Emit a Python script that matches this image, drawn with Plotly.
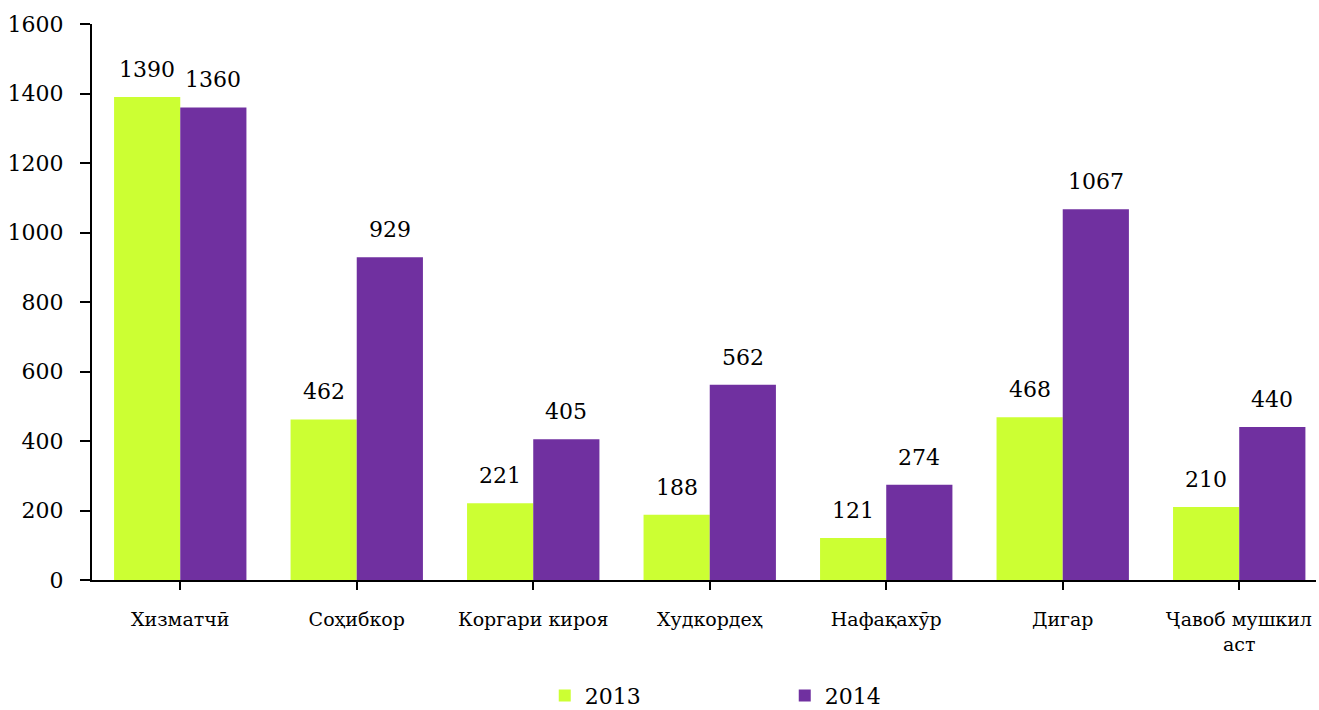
import plotly.graph_objects as go

categories = ["Хизматчӣ", "Соҳибкор", "Коргари кироя", "Худкордеҳ",
              "Нафақахӯр", "Дигар", "Ҷавоб мушкил<br>аст"]
values_2013 = [1390, 462, 221, 188, 121, 468, 210]
values_2014 = [1360, 929, 405, 562, 274, 1067, 440]
y_ticks = [0, 200, 400, 600, 800, 1000, 1200, 1400, 1600]

GREEN = "#CCFF33"
PURPLE = "#7030A0"
SERIF = "DejaVu Serif"
NUM_FONT = dict(family=SERIF, size=22, color="#000000")
CAT_FONT = dict(family=SERIF, size=19, color="#000000")

x_idx = list(range(len(categories)))
bar_w = 0.375

fig = go.Figure()
fig.add_trace(go.Bar(name="2013", x=x_idx, y=values_2013, marker_color=GREEN,
                     marker_line_width=0))
fig.add_trace(go.Bar(name="2014", x=x_idx, y=values_2014, marker_color=PURPLE,
                     marker_line_width=0))

# value labels above each bar
annotations = []
for i in x_idx:
    for v, off in ((values_2013[i], -bar_w / 2), (values_2014[i], bar_w / 2)):
        annotations.append(dict(x=i + off, y=v, text=str(v), showarrow=False,
                                xref="x", yref="y", yanchor="bottom",
                                yshift=13, font=NUM_FONT))

fig.update_layout(
    width=1319, height=710,
    margin=dict(l=92, r=3, t=24, b=130),
    paper_bgcolor="white", plot_bgcolor="white",
    barmode="group", bargap=0.25, bargroupgap=0,
    showlegend=True,
    legend=dict(orientation="h", xref="container", yref="container",
                x=0.413, y=0.02, xanchor="left", yanchor="middle",
                entrywidth=195, entrywidthmode="pixels",
                font=NUM_FONT, itemwidth=30, traceorder="normal"),
    annotations=annotations,
    xaxis=dict(tickmode="array", tickvals=x_idx, ticktext=categories,
               range=[-0.5, 6.435], showline=True, linecolor="black",
               linewidth=2, ticks="outside", tickson="boundaries",
               ticklen=8, tickwidth=2, tickcolor="black",
               showgrid=False, zeroline=False, tickfont=CAT_FONT,
               ticklabelstandoff=13),
    yaxis=dict(range=[0, 1600], tickvals=y_ticks, showline=True,
               linecolor="black", linewidth=2, ticks="outside", ticklen=10,
               tickwidth=2, tickcolor="black", showgrid=False, zeroline=False,
               tickfont=NUM_FONT, ticklabelstandoff=12),
    yaxis2=dict(range=[0, 1600], tickvals=y_ticks, overlaying="y",
                side="left", showline=False, ticks="inside", ticklen=9,
                tickwidth=2, tickcolor="black", showticklabels=False,
                showgrid=False, zeroline=False),
)

fig.write_html("out.html")
